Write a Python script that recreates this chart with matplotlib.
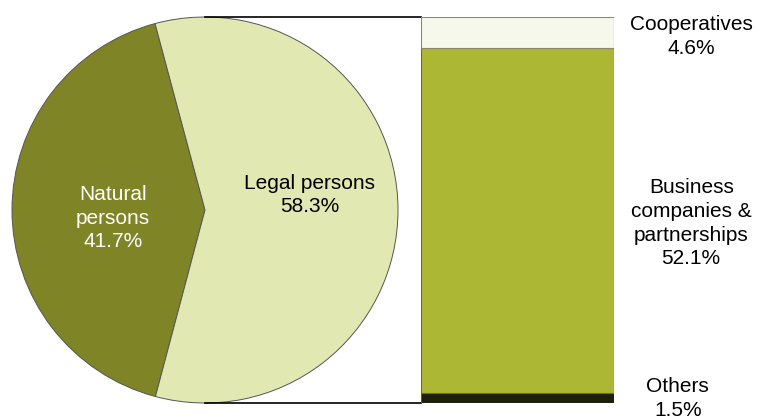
import matplotlib

matplotlib.use("Agg")
import matplotlib.pyplot as plt
import numpy as np

plt.rcParams["font.family"] = ["Liberation Sans", "DejaVu Sans"]

# pie: split of all persons
pie_labels = ["Natural\npersons\n41.7%", "Legal persons\n58.3%"]
pie_values = [41.7, 58.3]
pie_colors = ["#7f8427", "#e2e8b1"]

# bar: breakdown of legal persons (bottom to top)
bar_labels = ["Others\n1.5%", "Business\ncompanies &\npartnerships\n52.1%", "Cooperatives\n4.6%"]
bar_values = [1.5, 52.1, 4.6]
bar_colors = ["#1e1f0b", "#acb833", "#f6f8eb"]
bar_edges = ["#555555", "#6b7020", "#8a8a6a"]

W, H = 760, 419
FS = 15
LS = 1.32
fig = plt.figure(figsize=(W / 100, H / 100), dpi=100)
ax = fig.add_axes([0, 0, 1, 1])

cx, cy, r = 205, H - 210, 193
wedges, _ = ax.pie(
    pie_values,
    colors=pie_colors,
    startangle=105,
    center=(cx, cy),
    radius=r,
    wedgeprops=dict(edgecolor="#555555", linewidth=0.7),
)
ax.set_xlim(0, W)
ax.set_ylim(0, H)
ax.set_aspect("equal")
ax.axis("off")

ax.text(113, H - 218, pie_labels[0], color="white", fontsize=FS,
        ha="center", va="center", linespacing=LS)
ax.text(310, H - 195, pie_labels[1], color="black", fontsize=FS,
        ha="center", va="center", linespacing=LS)

# connector lines from pie top/bottom to the bar
bx0, bx1 = 421, 614
ax.plot([cx, bx0], [cy + r, cy + r], color="black", lw=1.2)
ax.plot([cx, bx0], [cy - r, cy - r], color="black", lw=1.2)

bax = fig.add_axes([bx0 / W, (cy - r) / H, (bx1 - bx0) / W, 2 * r / H])
bottoms = np.concatenate([[0], np.cumsum(bar_values)[:-1]])
bax.bar(0, bar_values, bottom=bottoms, width=1.0, color=bar_colors,
        edgecolor=bar_edges, linewidth=0.8)
bax.set_xlim(-0.5, 0.5)
bax.set_ylim(0, sum(bar_values))
bax.axis("off")

label_x = [0.83, 0.9, 0.9]
label_dy = [-0.1, -0.45, -0.6]
for lab, b, v, lx, dy in zip(bar_labels, bottoms, bar_values, label_x, label_dy):
    bax.text(lx, b + v / 2 + dy, lab, fontsize=FS, ha="center", va="center",
             linespacing=LS, clip_on=False)

fig.savefig("out.png", dpi=100)
